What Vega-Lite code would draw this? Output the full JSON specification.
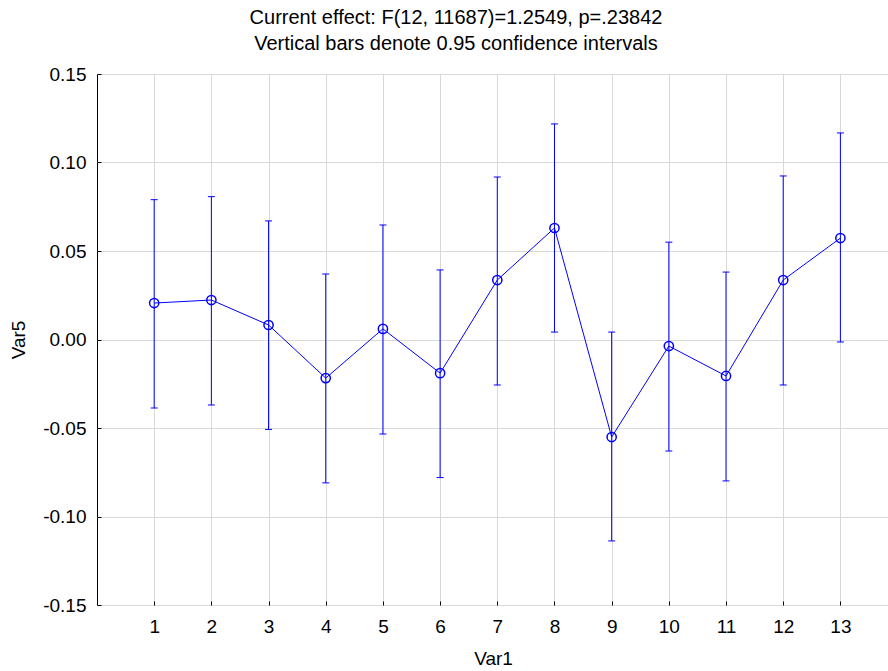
{
  "$schema": "https://vega.github.io/schema/vega-lite/v6.json",
  "width": 792,
  "height": 531,
  "autosize": {"type": "none"},
  "padding": {"left": 97, "top": 74, "right": 0, "bottom": 66},
  "background": "white",
  "config": {
    "view": {"stroke": "#000", "strokeWidth": 1},
    "font": "Liberation Sans",
    "axis": {
      "domain": false,
      "grid": true,
      "gridColor": "#d9d9d9",
      "gridWidth": 1,
      "tickColor": "#000",
      "tickSize": -4,
      "labelFontSize": 19,
      "labelColor": "#000",
      "titleFontSize": 19,
      "titleFontWeight": "normal",
      "titleColor": "#000"
    }
  },
  "title": {
    "text": ["Current effect: F(12, 11687)=1.2549, p=.23842", "Vertical bars denote 0.95 confidence intervals"],
    "fontSize": 20,
    "fontWeight": "normal",
    "color": "#000",
    "anchor": "middle",
    "frame": "group",
    "dx": -37,
    "lineHeight": 26,
    "offset": 11
  },
  "data": {
    "values": [
      {"x": 1, "mean": 0.0206, "lo": -0.0387, "hi": 0.0790},
      {"x": 2, "mean": 0.0223, "lo": -0.0370, "hi": 0.0807},
      {"x": 3, "mean": 0.0082, "lo": -0.0508, "hi": 0.0670},
      {"x": 4, "mean": -0.0218, "lo": -0.0810, "hi": 0.0370},
      {"x": 5, "mean": 0.0060, "lo": -0.0534, "hi": 0.0647},
      {"x": 6, "mean": -0.0190, "lo": -0.0780, "hi": 0.0393},
      {"x": 7, "mean": 0.0336, "lo": -0.0257, "hi": 0.0918},
      {"x": 8, "mean": 0.0630, "lo": 0.0042, "hi": 0.1218},
      {"x": 9, "mean": -0.0551, "lo": -0.1138, "hi": 0.0042},
      {"x": 10, "mean": -0.0037, "lo": -0.0630, "hi": 0.0550},
      {"x": 11, "mean": -0.0206, "lo": -0.0799, "hi": 0.0381},
      {"x": 12, "mean": 0.0336, "lo": -0.0257, "hi": 0.0924},
      {"x": 13, "mean": 0.0573, "lo": -0.0014, "hi": 0.1167}
    ]
  },
  "encoding": {
    "x": {
      "field": "x",
      "type": "quantitative",
      "scale": {"domain": [0, 13.85], "nice": false, "zero": false},
      "axis": {
        "values": [1, 2, 3, 4, 5, 6, 7, 8, 9, 10, 11, 12, 13],
        "format": "d",
        "labelPadding": 16,
        "title": "Var1",
        "titlePadding": 13
      }
    }
  },
  "layer": [
    {
      "mark": {"type": "rule", "color": "#0000ff", "strokeWidth": 1},
      "encoding": {
        "y": {
          "field": "lo",
          "type": "quantitative",
          "scale": {"domain": [-0.15, 0.15], "nice": false, "zero": false},
          "axis": {
            "values": [-0.15, -0.1, -0.05, 0, 0.05, 0.1, 0.15],
            "format": ".2f",
            "labelExpr": "replace(format(datum.value, '.2f'), '\u2212', '-')",
            "labelPadding": 15,
            "title": "Var5",
            "titlePadding": 14
          }
        },
        "y2": {"field": "hi"}
      }
    },
    {
      "mark": {"type": "tick", "color": "#0000ff", "orient": "horizontal", "size": 7, "thickness": 1, "opacity": 1},
      "encoding": {"y": {"field": "hi", "type": "quantitative"}}
    },
    {
      "mark": {"type": "tick", "color": "#0000ff", "orient": "horizontal", "size": 7, "thickness": 1, "opacity": 1},
      "encoding": {"y": {"field": "lo", "type": "quantitative"}}
    },
    {
      "mark": {"type": "line", "color": "#0000ff", "strokeWidth": 1},
      "encoding": {"y": {"field": "mean", "type": "quantitative"}}
    },
    {
      "mark": {"type": "point", "shape": "circle", "filled": false, "color": "#0000ff", "strokeWidth": 1.5, "size": 85, "opacity": 1},
      "encoding": {"y": {"field": "mean", "type": "quantitative"}}
    }
  ]
}
